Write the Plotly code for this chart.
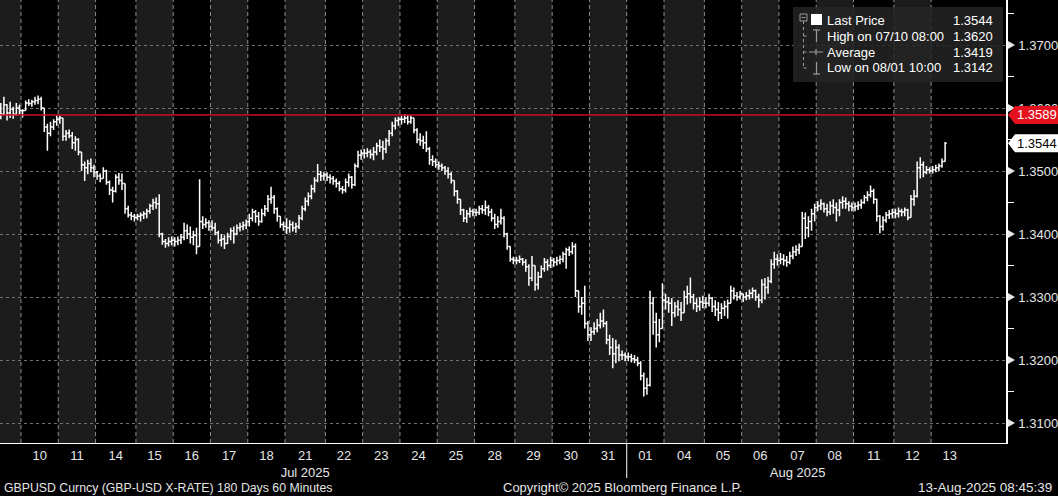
import plotly.graph_objects as go

# ---------------- data (2-hour bars, GBPUSD) ----------------
day_labels = ["09", "10", "11", "14", "15", "16", "17", "18", "21", "22", "23", "24", "25",
              "28", "29", "30", "31", "01", "04", "05", "06", "07", "08", "11", "12", "13"]
day_bars = [7, 12, 12, 13, 12, 12, 12, 12, 13, 12, 12, 12, 12,
            13, 12, 12, 12, 12, 13, 12, 12, 12, 12, 13, 12, 5]
month_labels = {8: "Jul 2025", 21: "Aug 2025"}
month_break_day = 17

first_open = 1.3598
highs = [
    1.3608, 1.3618, 1.3606, 1.3610, 1.3602, 1.3608, 1.3605,
    1.3598, 1.3612, 1.3614, 1.3613, 1.3618, 1.3620, 1.3618, 1.3600, 1.3575, 1.3578, 1.3582, 1.3588,
    1.3588, 1.3582, 1.3565, 1.3566, 1.3562, 1.3555, 1.3552, 1.3530, 1.3515, 1.3518, 1.3520, 1.3510,
    1.3500, 1.3496, 1.3506, 1.3502, 1.3485, 1.3475, 1.3495, 1.3497, 1.3496, 1.3480, 1.3445, 1.3435, 1.3432,
    1.3432, 1.3434, 1.3436, 1.3440, 1.3448, 1.3456, 1.3458, 1.3463, 1.3402, 1.3392, 1.3395, 1.3396,
    1.3395, 1.3396, 1.3400, 1.3418, 1.3415, 1.3412, 1.3405, 1.3410, 1.3487, 1.3428, 1.3425, 1.3422,
    1.3422, 1.3418, 1.3405, 1.3400, 1.3398, 1.3402, 1.3410, 1.3412, 1.3415, 1.3418, 1.3420, 1.3423,
    1.3432, 1.3440, 1.3438, 1.3435, 1.3440, 1.3446, 1.3462, 1.3475, 1.3462, 1.3442, 1.3428, 1.3420,
    1.3425, 1.3422, 1.3420, 1.3418, 1.3430, 1.3445, 1.3458, 1.3466, 1.3478, 1.3490, 1.3511, 1.3500, 1.3498,
    1.3498, 1.3495, 1.3492, 1.3488, 1.3484, 1.3476, 1.3488, 1.3496, 1.3492, 1.3512, 1.3532, 1.3534,
    1.3535, 1.3536, 1.3534, 1.3538, 1.3545, 1.3550, 1.3548, 1.3552, 1.3565, 1.3578, 1.3585, 1.3586,
    1.3588, 1.3590, 1.3589, 1.3588, 1.3582, 1.3568, 1.3560, 1.3556, 1.3563, 1.3538, 1.3525, 1.3520,
    1.3515, 1.3512, 1.3508, 1.3506, 1.3498, 1.3485, 1.3470, 1.3455, 1.3440, 1.3438, 1.3442, 1.3440,
    1.3440, 1.3445, 1.3446, 1.3453, 1.3446, 1.3440, 1.3432, 1.3428, 1.3440, 1.3428, 1.3402, 1.3380, 1.3364,
    1.3364, 1.3366, 1.3362, 1.3360, 1.3352, 1.3365, 1.3350, 1.3340, 1.3350, 1.3362, 1.3360, 1.3364,
    1.3362, 1.3364, 1.3366, 1.3372, 1.3378, 1.3380, 1.3387, 1.3385, 1.3310, 1.3300, 1.3318, 1.3262,
    1.3252, 1.3260, 1.3265, 1.3275, 1.3280, 1.3262, 1.3240, 1.3235, 1.3232, 1.3225, 1.3215, 1.3212,
    1.3212, 1.3210, 1.3208, 1.3205, 1.3198, 1.3180, 1.3172, 1.3310, 1.3300, 1.3275, 1.3265, 1.3322,
    1.3305, 1.3300, 1.3298, 1.3292, 1.3295, 1.3292, 1.3310, 1.3318, 1.3331, 1.3305, 1.3298, 1.3300, 1.3302,
    1.3300, 1.3305, 1.3300, 1.3295, 1.3292, 1.3290, 1.3294, 1.3296, 1.3318, 1.3315, 1.3308, 1.3310,
    1.3305, 1.3308, 1.3312, 1.3315, 1.3312, 1.3305, 1.3328, 1.3330, 1.3332, 1.3360, 1.3372, 1.3368,
    1.3370, 1.3368, 1.3365, 1.3372, 1.3380, 1.3382, 1.3385, 1.3435, 1.3434, 1.3428, 1.3440, 1.3448,
    1.3452, 1.3455, 1.3450, 1.3448, 1.3452, 1.3455, 1.3450, 1.3455, 1.3460, 1.3458, 1.3452, 1.3450,
    1.3450, 1.3452, 1.3455, 1.3462, 1.3468, 1.3477, 1.3472, 1.3456, 1.3430, 1.3428, 1.3435, 1.3438, 1.3440,
    1.3440, 1.3442, 1.3440, 1.3442, 1.3440, 1.3462, 1.3470, 1.3515, 1.3522, 1.3515, 1.3508, 1.3506,
    1.3508, 1.3510, 1.3512, 1.3520, 1.3546,
]
lows = [
    1.3582, 1.3588, 1.3580, 1.3584, 1.3583, 1.3588, 1.3590,
    1.3585, 1.3596, 1.3603, 1.3602, 1.3605, 1.3606, 1.3596, 1.3562, 1.3532, 1.3555, 1.3565, 1.3572,
    1.3575, 1.3548, 1.3548, 1.3552, 1.3535, 1.3532, 1.3525, 1.3500, 1.3484, 1.3495, 1.3498, 1.3490,
    1.3486, 1.3482, 1.3488, 1.3478, 1.3462, 1.3450, 1.3466, 1.3478, 1.3470, 1.3432, 1.3426, 1.3422, 1.3420,
    1.3422, 1.3420, 1.3424, 1.3425, 1.3432, 1.3438, 1.3440, 1.3395, 1.3383, 1.3378, 1.3380, 1.3382,
    1.3380, 1.3382, 1.3384, 1.3390, 1.3392, 1.3385, 1.3382, 1.3368, 1.3380, 1.3408, 1.3410, 1.3405,
    1.3405, 1.3398, 1.3385, 1.3380, 1.3376, 1.3384, 1.3390, 1.3385, 1.3398, 1.3404, 1.3406, 1.3408,
    1.3412, 1.3420, 1.3418, 1.3413, 1.3418, 1.3428, 1.3435, 1.3448, 1.3432, 1.3420, 1.3410, 1.3405,
    1.3400, 1.3402, 1.3404, 1.3402, 1.3408, 1.3422, 1.3436, 1.3445, 1.3455, 1.3466, 1.3482, 1.3484, 1.3485,
    1.3484, 1.3480, 1.3478, 1.3474, 1.3468, 1.3464, 1.3466, 1.3475, 1.3472, 1.3476, 1.3505, 1.3518,
    1.3520, 1.3522, 1.3520, 1.3517, 1.3525, 1.3530, 1.3518, 1.3528, 1.3540, 1.3555, 1.3566, 1.3572,
    1.3574, 1.3576, 1.3574, 1.3575, 1.3560, 1.3544, 1.3540, 1.3535, 1.3530, 1.3510, 1.3508, 1.3505,
    1.3502, 1.3500, 1.3494, 1.3488, 1.3480, 1.3460, 1.3448, 1.3430, 1.3419, 1.3418, 1.3426, 1.3428,
    1.3428, 1.3430, 1.3432, 1.3430, 1.3428, 1.3420, 1.3408, 1.3410, 1.3415, 1.3395, 1.3375, 1.3356, 1.3352,
    1.3352, 1.3354, 1.3350, 1.3340, 1.3318, 1.3325, 1.3310, 1.3312, 1.3330, 1.3340, 1.3342, 1.3346,
    1.3348, 1.3350, 1.3352, 1.3355, 1.3345, 1.3365, 1.3368, 1.3300, 1.3275, 1.3272, 1.3250, 1.3230,
    1.3230, 1.3240, 1.3244, 1.3250, 1.3252, 1.3225, 1.3208, 1.3187, 1.3195, 1.3198, 1.3200, 1.3198,
    1.3198, 1.3196, 1.3195, 1.3190, 1.3168, 1.3142, 1.3145, 1.3158, 1.3240, 1.3220, 1.3228, 1.3255,
    1.3280, 1.3275, 1.3254, 1.3268, 1.3270, 1.3262, 1.3275, 1.3288, 1.3290, 1.3280, 1.3276, 1.3278, 1.3282,
    1.3282, 1.3285, 1.3276, 1.3270, 1.3262, 1.3265, 1.3270, 1.3266, 1.3292, 1.3296, 1.3294, 1.3296,
    1.3292, 1.3295, 1.3296, 1.3298, 1.3294, 1.3283, 1.3290, 1.3296, 1.3305, 1.3322, 1.3345, 1.3350,
    1.3352, 1.3350, 1.3348, 1.3352, 1.3360, 1.3365, 1.3368, 1.3380, 1.3392, 1.3395, 1.3405, 1.3420,
    1.3436, 1.3438, 1.3434, 1.3428, 1.3430, 1.3432, 1.3420, 1.3428, 1.3440, 1.3440, 1.3436, 1.3436,
    1.3436, 1.3438, 1.3440, 1.3448, 1.3452, 1.3458, 1.3448, 1.3420, 1.3401, 1.3405, 1.3418, 1.3424, 1.3425,
    1.3425, 1.3426, 1.3428, 1.3428, 1.3422, 1.3430, 1.3445, 1.3458, 1.3488, 1.3490, 1.3495, 1.3496,
    1.3496, 1.3498, 1.3500, 1.3505, 1.3515,
]
closes = [
    1.3590, 1.3605, 1.3592, 1.3598, 1.3590, 1.3600, 1.3596,
    1.3596, 1.3608, 1.3607, 1.3610, 1.3612, 1.3614, 1.3600, 1.3570, 1.3560, 1.3570, 1.3578, 1.3582,
    1.3584, 1.3555, 1.3560, 1.3556, 1.3545, 1.3550, 1.3530, 1.3510, 1.3505, 1.3512, 1.3505, 1.3498,
    1.3492, 1.3488, 1.3500, 1.3482, 1.3470, 1.3468, 1.3490, 1.3485, 1.3480, 1.3440, 1.3430, 1.3428, 1.3426,
    1.3428, 1.3430, 1.3432, 1.3436, 1.3445, 1.3450, 1.3448, 1.3400, 1.3388, 1.3385, 1.3388, 1.3390,
    1.3388, 1.3390, 1.3395, 1.3405, 1.3400, 1.3395, 1.3398, 1.3380, 1.3420, 1.3415, 1.3418, 1.3412,
    1.3410, 1.3402, 1.3390, 1.3392, 1.3385, 1.3396, 1.3405, 1.3400, 1.3410, 1.3412, 1.3414, 1.3420,
    1.3425, 1.3435, 1.3428, 1.3420, 1.3432, 1.3440, 1.3455, 1.3458, 1.3440, 1.3428, 1.3415, 1.3412,
    1.3410, 1.3415, 1.3410, 1.3412, 1.3425, 1.3440, 1.3452, 1.3460, 1.3472, 1.3485, 1.3495, 1.3492, 1.3494,
    1.3490, 1.3488, 1.3484, 1.3480, 1.3472, 1.3470, 1.3482, 1.3490, 1.3478, 1.3508, 1.3525, 1.3528,
    1.3528, 1.3530, 1.3526, 1.3530, 1.3540, 1.3538, 1.3535, 1.3548, 1.3560, 1.3572, 1.3580, 1.3582,
    1.3582, 1.3584, 1.3578, 1.3584, 1.3565, 1.3550, 1.3548, 1.3545, 1.3535, 1.3518, 1.3515, 1.3510,
    1.3508, 1.3505, 1.3500, 1.3495, 1.3485, 1.3468, 1.3455, 1.3438, 1.3425, 1.3432, 1.3436, 1.3434,
    1.3434, 1.3440, 1.3438, 1.3442, 1.3435, 1.3425, 1.3415, 1.3420, 1.3425, 1.3400, 1.3380, 1.3360, 1.3358,
    1.3358, 1.3360, 1.3355, 1.3348, 1.3330, 1.3350, 1.3320, 1.3332, 1.3345, 1.3355, 1.3350, 1.3358,
    1.3355, 1.3358, 1.3360, 1.3368, 1.3375, 1.3372, 1.3380, 1.3310, 1.3285, 1.3290, 1.3258, 1.3240,
    1.3245, 1.3250, 1.3255, 1.3262, 1.3258, 1.3232, 1.3220, 1.3210, 1.3220, 1.3208, 1.3208, 1.3205,
    1.3205, 1.3202, 1.3200, 1.3195, 1.3175, 1.3155, 1.3160, 1.3290, 1.3260, 1.3240, 1.3250, 1.3295,
    1.3292, 1.3290, 1.3275, 1.3285, 1.3280, 1.3275, 1.3300, 1.3305, 1.3300, 1.3290, 1.3285, 1.3292, 1.3290,
    1.3290, 1.3298, 1.3285, 1.3280, 1.3275, 1.3282, 1.3285, 1.3290, 1.3310, 1.3302, 1.3300, 1.3305,
    1.3300, 1.3302, 1.3306, 1.3310, 1.3300, 1.3295, 1.3320, 1.3315, 1.3325, 1.3352, 1.3360, 1.3358,
    1.3360, 1.3358, 1.3355, 1.3365, 1.3372, 1.3375, 1.3380, 1.3425, 1.3410, 1.3420, 1.3432, 1.3442,
    1.3445, 1.3448, 1.3440, 1.3435, 1.3445, 1.3442, 1.3438, 1.3450, 1.3452, 1.3448, 1.3444, 1.3442,
    1.3444, 1.3446, 1.3450, 1.3458, 1.3462, 1.3468, 1.3455, 1.3428, 1.3412, 1.3422, 1.3430, 1.3432, 1.3434,
    1.3432, 1.3436, 1.3435, 1.3438, 1.3426, 1.3455, 1.3460, 1.3505, 1.3510, 1.3498, 1.3502, 1.3500,
    1.3502, 1.3505, 1.3508, 1.3515, 1.3544,
]

y_tick_values = [1.31, 1.32, 1.33, 1.34, 1.35, 1.36, 1.37]
y_tick_text = ["1.3100", "1.3200", "1.3300", "1.3400", "1.3500", "1.3600", "1.3700"]
red_level = 1.3589
last_price = 1.3544
legend_rows = [("Last Price", "1.3544"), ("High on 07/10 08:00", "1.3620"),
               ("Average", "1.3419"), ("Low on 08/01 10:00", "1.3142")]
footer_left = "GBPUSD Curncy (GBP-USD X-RATE) 180 Days 60 Minutes"
footer_mid = "Copyright\u00a9 2025 Bloomberg Finance L.P."
footer_right = "13-Aug-2025 08:45:39"

assert len(highs) == len(lows) == len(closes) == sum(day_bars)

# ---------------- derived ----------------
x = list(range(len(closes)))
opens = [first_open] + closes[:-1]
highs_c = [max(h, o, c) for h, o, c in zip(highs, opens, closes)]
lows_c = [min(l, o, c) for l, o, c in zip(lows, opens, closes)]

starts = []
cum = 0
for n in day_bars:
    starts.append(cum - 0.5)
    cum += n

W, H = 1006.0, 443.0           # plot area size in px
XR = [-0.26, 323.6]
YR = [1.306825, 1.377143]
FONT = "Liberation Sans, Arial, sans-serif"
TXT = "#e6e6e6"


def px(v):
    return v / W


def py(v):
    return 1 - v / H


fig = go.Figure()
fig.add_trace(go.Ohlc(x=x, open=opens, high=highs_c, low=lows_c, close=closes,
                      increasing_line_color="white", decreasing_line_color="white",
                      line_width=1.5, tickwidth=0.5, showlegend=False, hoverinfo="skip"))

shapes = []
# day stripes
for k in range(len(day_labels)):
    if k % 2 == 0:
        x0 = XR[0] if k == 0 else starts[k]
        x1 = starts[k + 1] if k + 1 < len(starts) else XR[1]
        shapes.append(dict(type="rect", xref="x", yref="paper", x0=x0, x1=x1, y0=0, y1=1,
                           fillcolor="#1c1c1c", line_width=0, layer="below"))
# day separators
for k in range(1, len(day_labels)):
    shapes.append(dict(type="line", xref="x", yref="paper", x0=starts[k], x1=starts[k],
                       y0=0, y1=1, line=dict(color="#8c8c8c", width=1, dash="4px,3px"),
                       layer="below"))
# month separator below axis
mb = starts[month_break_day]
shapes.append(dict(type="line", xref="x", yref="paper", x0=mb, x1=mb, y0=0, y1=-35 / H,
                   line=dict(color="white", width=1)))
# red level line
shapes.append(dict(type="line", xref="paper", yref="y", x0=0, x1=1, y0=red_level, y1=red_level,
                   line=dict(color="#c8101e", width=1.5), layer="above"))
# tick arrows
for v in y_tick_values:
    shapes.append(dict(type="path", xref="paper", yref="y", xsizemode="pixel", ysizemode="pixel",
                       xanchor=1, yanchor=v, path="M 2,-4 L 2,4 L 9,0 Z",
                       fillcolor=TXT, line_width=0, layer="above"))
# price tags
tag = "M 2,0 L 9,9 L 52,9 L 52,-9 L 9,-9 Z"
shapes.append(dict(type="path", xref="paper", yref="y", xsizemode="pixel", ysizemode="pixel",
                   xanchor=1, yanchor=red_level, path=tag, fillcolor="#e3121e", line_width=0,
                   layer="above"))
shapes.append(dict(type="path", xref="paper", yref="y", xsizemode="pixel", ysizemode="pixel",
                   xanchor=1, yanchor=last_price, path=tag, fillcolor="white", line_width=0,
                   layer="above"))
# legend box
shapes.append(dict(type="rect", xref="paper", yref="paper", x0=px(793), x1=px(1003),
                   y0=py(82), y1=py(7), fillcolor="rgba(36,36,36,0.86)", line_width=0,
                   layer="above"))
ic = "#9a9a9a"
# tree icon
shapes.append(dict(type="rect", xref="paper", yref="paper", x0=px(800), x1=px(807),
                   y0=py(21), y1=py(14), line=dict(color=ic, width=1), layer="above"))
shapes.append(dict(type="line", xref="paper", yref="paper", x0=px(801.5), x1=px(805.5),
                   y0=py(17.5), y1=py(17.5), line=dict(color=ic, width=1), layer="above"))
shapes.append(dict(type="line", xref="paper", yref="paper", x0=px(803.5), x1=px(803.5),
                   y0=py(21), y1=py(68), line=dict(color=ic, width=1, dash="dot"), layer="above"))
for yy in (36, 52, 68):
    shapes.append(dict(type="line", xref="paper", yref="paper", x0=px(803.5), x1=px(808),
                       y0=py(yy), y1=py(yy), line=dict(color=ic, width=1, dash="dot"),
                       layer="above"))
# white square
shapes.append(dict(type="rect", xref="paper", yref="paper", x0=px(811), x1=px(822),
                   y0=py(25), y1=py(14), fillcolor="white", line_width=0, layer="above"))
# high icon
shapes.append(dict(type="line", xref="paper", yref="paper", x0=px(813), x1=px(820),
                   y0=py(30), y1=py(30), line=dict(color=ic, width=1.2), layer="above"))
shapes.append(dict(type="line", xref="paper", yref="paper", x0=px(816.5), x1=px(816.5),
                   y0=py(30), y1=py(42), line=dict(color=ic, width=1.2), layer="above"))
# average icon
shapes.append(dict(type="line", xref="paper", yref="paper", x0=px(809), x1=px(823),
                   y0=py(52), y1=py(52), line=dict(color=ic, width=1), layer="above"))
shapes.append(dict(type="line", xref="paper", yref="paper", x0=px(816), x1=px(816),
                   y0=py(49), y1=py(55), line=dict(color=ic, width=1.2), layer="above"))
# low icon
shapes.append(dict(type="line", xref="paper", yref="paper", x0=px(816.5), x1=px(816.5),
                   y0=py(62), y1=py(74), line=dict(color=ic, width=1.2), layer="above"))
shapes.append(dict(type="line", xref="paper", yref="paper", x0=px(813), x1=px(820),
                   y0=py(74), y1=py(74), line=dict(color=ic, width=1.2), layer="above"))

annotations = []
for i, (lab, val) in enumerate(legend_rows):
    yy = [20.5, 36, 52, 68][i]
    annotations.append(dict(xref="paper", yref="paper", x=px(825), y=py(yy), text=lab,
                            xanchor="left", yanchor="middle", showarrow=False,
                            font=dict(family=FONT, size=13, color="white")))
    annotations.append(dict(xref="paper", yref="paper", x=px(995), y=py(yy), text=val,
                            xanchor="right", yanchor="middle", showarrow=False,
                            font=dict(family=FONT, size=13, color="white")))
annotations.append(dict(xref="paper", yref="y", x=1, y=red_level, xshift=9, text=f"{red_level:.4f}",
                        xanchor="left", yanchor="middle", showarrow=False,
                        font=dict(family=FONT, size=13, color="white")))
annotations.append(dict(xref="paper", yref="y", x=1, y=last_price, xshift=9, text=f"{last_price:.4f}",
                        xanchor="left", yanchor="middle", showarrow=False,
                        font=dict(family=FONT, size=13, color="black")))
fy = py(487.5)
annotations.append(dict(xref="paper", yref="paper", x=px(2), y=fy, text=footer_left,
                        xanchor="left", yanchor="middle", showarrow=False,
                        font=dict(family=FONT, size=12.3, color=TXT)))
annotations.append(dict(xref="paper", yref="paper", x=px(622), y=fy, text=footer_mid,
                        xanchor="center", yanchor="middle", showarrow=False,
                        font=dict(family=FONT, size=13, color=TXT)))
annotations.append(dict(xref="paper", yref="paper", x=px(1054), y=fy, text=footer_right,
                        xanchor="right", yanchor="middle", showarrow=False,
                        font=dict(family=FONT, size=13.5, color=TXT)))

# x ticks
tickvals, ticktext = [], []
for k in range(1, len(day_labels)):
    nominal = 13 if day_bars[k] == 13 else 12
    tickvals.append(starts[k] + nominal / 2)
    t = day_labels[k]
    if k in month_labels:
        t += "<br>" + month_labels[k]
    ticktext.append(t)

minor_vals = [v + 0.005 for v in y_tick_values] + [y_tick_values[0] - 0.005]

fig.update_layout(
    width=1058, height=496,
    margin=dict(l=0, r=52, t=0, b=53, autoexpand=False),
    paper_bgcolor="black", plot_bgcolor="black",
    showlegend=False,
    font=dict(family=FONT, size=13, color=TXT),
    shapes=shapes, annotations=annotations,
    xaxis=dict(range=XR, rangeslider=dict(visible=False), showgrid=False, zeroline=False,
               showline=True, linecolor="white", linewidth=1, ticks="",
               tickvals=tickvals, ticktext=ticktext,
               tickfont=dict(family=FONT, size=13, color=TXT), fixedrange=True),
    yaxis=dict(range=YR, side="right", showgrid=True, gridcolor="#707070", griddash="3px,3px",
               gridwidth=1, zeroline=False, showline=True, linecolor="white", linewidth=1.5,
               ticks="", tickvals=y_tick_values, ticktext=y_tick_text, ticklabelstandoff=8,
               minor=dict(tickvals=minor_vals, ticks="outside", ticklen=6, tickcolor="white",
                          tickwidth=1, showgrid=False),
               tickfont=dict(family=FONT, size=13, color=TXT), fixedrange=True),
)

fig.write_html("out.html", config={"displayModeBar": False},
               post_script="document.body.style.margin='0';document.body.style.overflow='hidden';")
